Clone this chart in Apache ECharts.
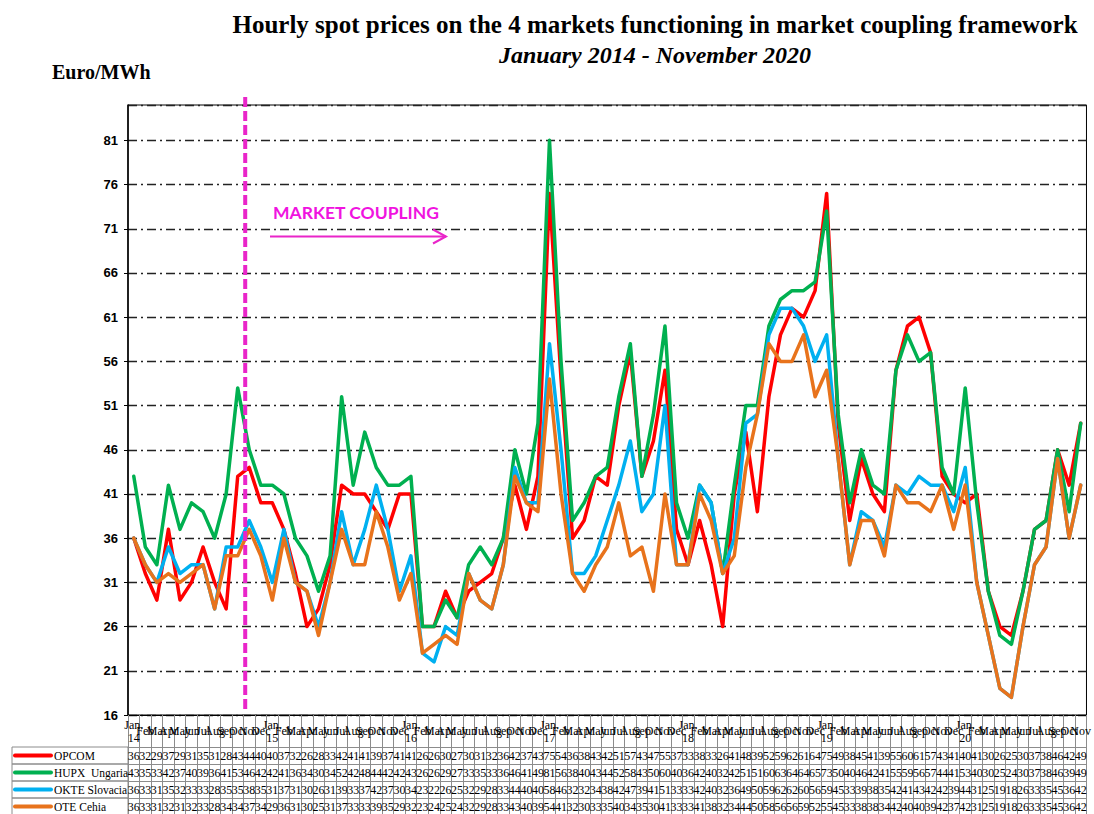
<!DOCTYPE html>
<html>
<head>
<meta charset="utf-8">
<script src="https://cdn.jsdelivr.net/npm/echarts@6/dist/echarts.min.js"></script>
<style>
html,body{margin:0;padding:0;background:#fff;}
#main{width:1094px;height:814px;}
</style>
</head>
<body>
<div id="main"></div>
<script>
// ---- data ----
const years = ['14','15','16','17','18','19','20'];
const monthNames = ['Jan.','Feb','Mar','Apr','May','Jun','Jul','Aug','Sep','Oct','Nov','Dec'];
const seriesNames = ['OPCOM','HUPX  Ungaria','OKTE Slovacia','OTE Cehia'];
const yTicks = {min:16, max:85, interval:5};

const opcom = [
  36,32,29,37,29,31,35,31,28,43,44,40,
  40,37,32,26,28,33,42,41,41,39,37,41,
  41,26,26,30,27,30,31,32,36,42,37,43,
  75,54,36,38,43,42,51,57,43,47,55,37,
  33,38,33,26,41,48,39,52,59,62,61,64,
  75,49,38,45,41,39,55,60,61,57,43,41,
  40,41,30,26,25,30,37,38,46,42,49
];
const hupx = [
  43,35,33,42,37,40,39,36,41,53,46,42,
  42,41,36,34,30,34,52,42,48,44,42,42,
  43,26,26,29,27,33,35,33,36,46,41,49,
  81,56,38,40,43,44,52,58,43,50,60,40,
  36,42,40,32,42,51,51,60,63,64,64,65,
  73,50,40,46,42,41,55,59,56,57,44,41,
  53,40,30,25,24,30,37,38,46,39,49
];
const okte = [
  36,33,31,35,32,33,33,28,35,35,38,35,
  31,37,31,30,26,31,39,33,37,42,37,30,
  34,23,22,26,25,32,29,28,33,44,40,40,
  58,46,32,32,34,38,42,47,39,41,51,33,
  33,42,40,32,36,49,50,59,62,62,60,56,
  59,45,33,39,38,35,42,41,43,42,42,39,
  44,31,25,19,18,26,33,35,45,36,42
];
const ote = [
  36,33,31,32,31,32,33,28,34,34,37,34,
  29,36,31,30,25,31,37,33,33,39,35,29,
  32,23,24,25,24,32,29,28,33,43,40,39,
  54,41,32,30,33,35,40,34,35,30,41,33,
  33,41,38,32,34,44,50,58,56,56,59,52,
  55,45,33,38,38,34,42,40,40,39,42,37,
  42,31,25,19,18,26,33,35,45,36,42
];
const couplingStartIndex = 9;   // between Oct 2014 and Nov 2014
const couplingFraction = 0.65;

// ---- build categories ----
const categories = [];
years.forEach(y => monthNames.forEach((m, i) => {
  if (categories.length < opcom.length) categories.push(i === 0 ? m + '\n' + y : m);
}));

const colors = ['#FF0000', '#00B050', '#00B0F0', '#E8731C'];
const allSeries = [opcom, hupx, okte, ote];

const gridTop = 105, gridBottomY = 715, gridLeft = 128, gridRight = 2;
const headerH = 32, rowH = 17;
const tableLine = '#8c8c8c';
const serif = 'Liberation Serif';

const chart = echarts.init(document.getElementById('main'), null, {renderer: 'svg'});

const xAxes = [{
  type: 'category',
  data: categories,
  position: 'bottom',
  boundaryGap: true,
  axisLine: {show: true, lineStyle: {color: '#000', width: 1}},
  axisTick: {show: true, length: 99, interval: 0, lineStyle: {color: tableLine, width: 1}},
  axisLabel: {interval: 0, margin: 16, verticalAlign: 'middle', fontFamily: serif, fontSize: 12, lineHeight: 13, color: '#000'},
  splitLine: {show: false}
}];
allSeries.forEach((arr, k) => {
  xAxes.push({
    type: 'category',
    data: categories,
    position: 'bottom',
    offset: headerH + k * rowH,
    boundaryGap: true,
    axisLine: {show: true, lineStyle: {color: tableLine, width: 1}},
    axisTick: {show: false},
    axisLabel: {interval: 0, margin: rowH / 2, verticalAlign: 'middle', fontFamily: serif, fontSize: 12, color: '#000',
      formatter: (v, i) => String(arr[i])},
    splitLine: {show: false}
  });
});

const option = {
  animation: false,
  backgroundColor: '#fff',
  title: [
    {text: 'Hourly spot prices on the 4 markets functioning in market coupling framework', left: 650, top: 7, textAlign: 'center',
     textStyle: {fontFamily: serif, fontWeight: 'bold', fontSize: 25, color: '#000'}},
    {text: 'January 2014 - November 2020', left: 650, top: 38, textAlign: 'center',
     textStyle: {fontFamily: serif, fontWeight: 'bold', fontStyle: 'italic', fontSize: 24, color: '#000'}},
    {text: 'Euro/MWh', left: 47, top: 57,
     textStyle: {fontFamily: serif, fontWeight: 'bold', fontSize: 20, color: '#000'}}
  ],
  grid: {left: gridLeft, right: gridRight, top: gridTop, bottom: 814 - gridBottomY, show: true, borderColor: '#000', borderWidth: 1, containLabel: false},
  xAxis: xAxes,
  yAxis: {
    type: 'value', min: yTicks.min, max: yTicks.max, interval: yTicks.interval,
    axisLine: {show: true, lineStyle: {color: '#000', width: 1.5}},
    axisTick: {show: true, length: 4, lineStyle: {color: '#000'}},
    axisLabel: {showMaxLabel: false, margin: 10, fontFamily: 'Liberation Sans', fontWeight: 'bold', fontSize: 13, color: '#000'},
    splitLine: {show: true, lineStyle: {color: '#222', width: 1.3, type: [9, 4, 2, 4]}}
  },
  series: allSeries.map((arr, k) => ({
    name: seriesNames[k], type: 'line', xAxisIndex: 0, data: arr,
    symbol: 'none', smooth: false,
    lineStyle: {color: colors[k], width: 3.5, cap: 'round', join: 'round'},
    itemStyle: {color: colors[k]}
  }))
};
chart.setOption(option);

// ---- decorations: table legend column, market coupling marker ----
const x0 = chart.convertToPixel({xAxisIndex: 0}, couplingStartIndex);
const x1 = chart.convertToPixel({xAxisIndex: 0}, couplingStartIndex + 1);
const mx = x0 + (x1 - x0) * couplingFraction;
const magenta = '#E925C9';
const graphics = [];
graphics.push({type: 'line', shape: {x1: mx, y1: 97, x2: mx, y2: 712}, style: {stroke: magenta, lineWidth: 4, lineDash: [10, 4]}, z: 50});
graphics.push({type: 'text', left: 273, top: 203, style: {text: 'MARKET COUPLING', fill: '#F013E0', font: 'bold 17.5px Lato'}, z: 50});
graphics.push({type: 'line', shape: {x1: 270, y1: 236.5, x2: 446, y2: 236.5}, style: {stroke: magenta, lineWidth: 2}, z: 50});
graphics.push({type: 'polyline', shape: {points: [[433, 229.5], [446, 236.5], [433, 243.5]]}, style: {stroke: magenta, lineWidth: 2, fill: null}, z: 50});
// legend column of table
const legX0 = 12;
for (let k = 0; k < 4; k++) {
  const top = gridBottomY + headerH + k * rowH;
  graphics.push({type: 'rect', shape: {x: legX0, y: top, width: gridLeft - legX0, height: rowH}, style: {stroke: tableLine, fill: null, lineWidth: 1}});
  graphics.push({type: 'line', shape: {x1: 15, y1: top + rowH / 2, x2: 51, y2: top + rowH / 2}, style: {stroke: colors[k], lineWidth: 4, lineCap: 'round'}});
  graphics.push({type: 'text', left: 54, top: top + 3, style: {text: seriesNames[k], fill: '#000', font: '11.5px "Liberation Serif"'}});
}
chart.setOption({graphic: graphics});
</script>
</body>
</html>
